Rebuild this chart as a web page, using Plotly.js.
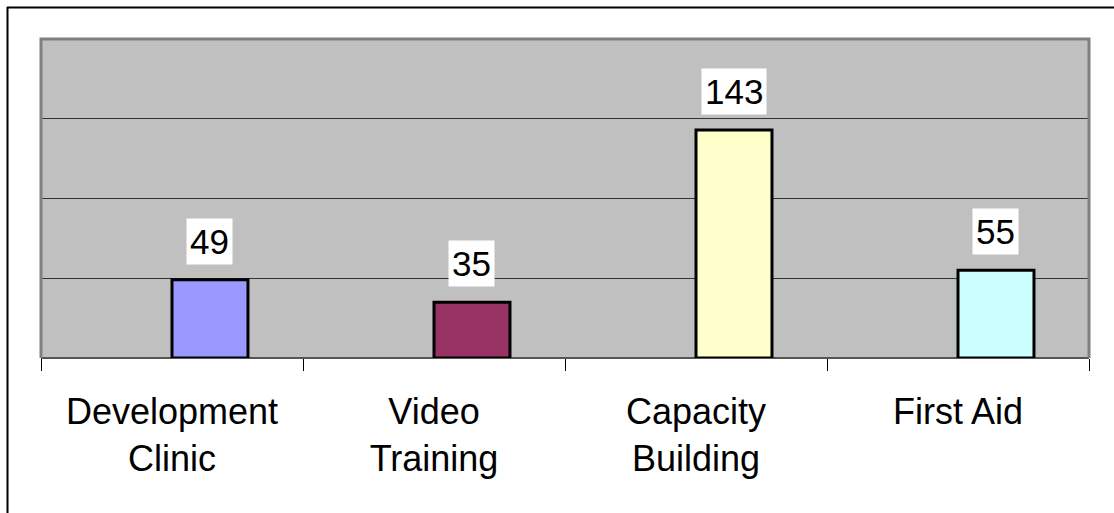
<!DOCTYPE html>
<html>
<head>
<meta charset="utf-8">
<script src="https://cdn.plot.ly/plotly-3.0.1.min.js"></script>
<style>
html,body{margin:0;padding:0;background:#fff;}
#chart{width:1114px;height:513px;}
</style>
</head>
<body>
<div id="chart"></div>
<script>
var categories = ["Development<br>Clinic", "Video<br>Training", "Capacity<br>Building", "First Aid"];
var values = [49, 35, 143, 55];
var barColors = ["#9999ff", "#993366", "#ffffcc", "#ccffff"];

var FONT = "Liberation Sans, Arial, sans-serif";
var BAR_W = 0.29;

var trace = {
  type: "bar",
  x: categories,
  y: values,
  width: BAR_W,
  offset: 0,
  marker: {color: barColors, line: {color: "#000000", width: 3}},
  hoverinfo: "none"
};

var annotations = categories.map(function(c, i){
  return {
    x: i + BAR_W / 2, y: values[i], xref: "x", yref: "y",
    text: String(values[i]),
    showarrow: false,
    yanchor: "bottom",
    yshift: 15,
    bgcolor: "#ffffff",
    borderpad: 3,
    font: {family: FONT, size: 35, color: "#000000"}
  };
});

var W = 1048, H = 319, L = 41, T = 39;
function px(x){ return (x - L) / W; }
function py(y){ return (T + H - y) / H; }

var shapes = [
  {type: "line", xref: "paper", yref: "paper", x0: px(7), x1: px(1130), y0: py(7.5), y1: py(7.5), line: {color: "#000", width: 2}},
  {type: "line", xref: "paper", yref: "paper", x0: px(7.5), x1: px(7.5), y0: py(7), y1: py(530), line: {color: "#000", width: 2}},
  {type: "path", xref: "paper", yref: "paper", layer: "above",
   path: "M 0 0 L 0 1 L 1 1 L 1 0",
   line: {color: "#808080", width: 3}}
];

var layout = {
  width: 1114, height: 513,
  margin: {l: L, r: 1114 - L - W, t: T, b: 513 - T - H, pad: 0},
  paper_bgcolor: "rgba(0,0,0,0)",
  plot_bgcolor: "#c0c0c0",
  showlegend: false,
  xaxis: {
    type: "category",
    range: [-0.5, 3.5],
    tickson: "boundaries",
    ticks: "outside",
    ticklen: 12,
    tickwidth: 1,
    tickcolor: "#000",
    showgrid: false,
    showline: false,
    zeroline: false,
    ticklabelstandoff: 29,
    tickfont: {family: FONT, size: 36, color: "#000"},
    fixedrange: true
  },
  yaxis: {
    range: [0, 200],
    dtick: 50,
    showticklabels: false,
    ticks: "",
    showgrid: true,
    gridcolor: "#333333",
    gridwidth: 1,
    zeroline: true,
    zerolinecolor: "#555555",
    zerolinewidth: 2,
    showline: false,
    fixedrange: true
  },
  annotations: annotations,
  shapes: shapes
};

Plotly.newPlot("chart", [trace], layout, {displayModeBar: false, staticPlot: true});
</script>
</body>
</html>
